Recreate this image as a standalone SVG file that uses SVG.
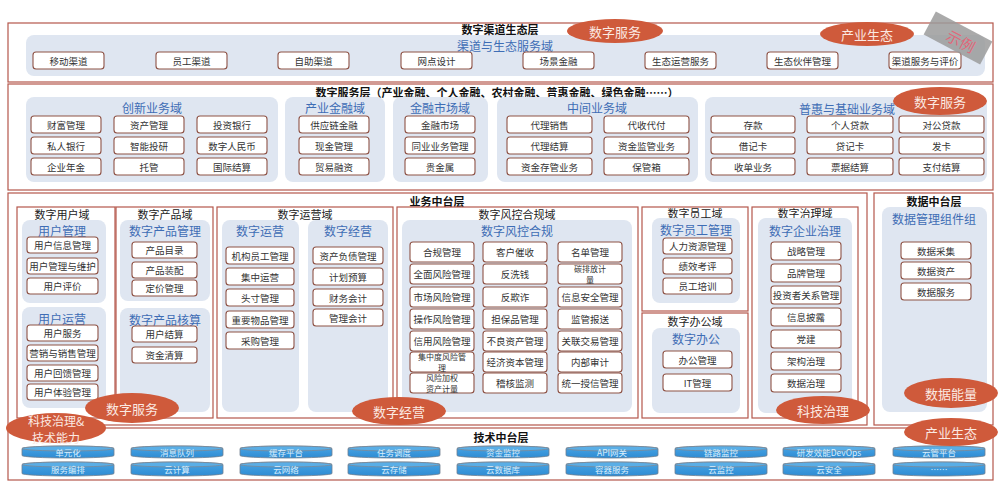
<svg xmlns="http://www.w3.org/2000/svg" xmlns:xlink="http://www.w3.org/1999/xlink" width="1005" height="495" viewBox="0 0 1005 495">
<style>
text{font-family:"Noto Sans CJK SC","Noto Sans",sans-serif;text-anchor:middle;dominant-baseline:central}
.layer{fill:#fff;stroke:#b5574b;stroke-width:1.2}
.dom{fill:#fff;stroke:#b5574b;stroke-width:1.2}
.panel{fill:#dfe6f1}
.box{fill:#fff;stroke:#8e5245;stroke-width:1.1}
.bt{font-size:9.5px;fill:#333}
.bs{font-size:8px;fill:#333}
.lt{font-size:11px;font-weight:bold;fill:#111}
.pt{font-size:12px;fill:#3e6db5}
.dt{font-size:11px;fill:#222}
.oval{fill:#cf5a3b}
.ot{font-size:13px;fill:#fbe9e2}
.cyl{fill:url(#cg);stroke:#6f7f8f;stroke-width:0.8}
.cylt{fill:#5aaee6;stroke:#7d8894;stroke-width:0.8}
.ct{font-size:8.5px;fill:#d9eefc}
</style>
<defs>
<linearGradient id="cg" x1="0" y1="0" x2="0" y2="1"><stop offset="0" stop-color="#48a6e6"/><stop offset="1" stop-color="#2f8bd2"/></linearGradient>
<g id="cylA"><path class="cyl" d="M0,2.5 A46,2.5 0 0 1 92,2.5 V9.5 A46,2.5 0 0 1 0,9.5 Z"/><ellipse class="cylt" cx="46" cy="2.5" rx="46" ry="2.5"/></g>
<g id="cylB"><path class="cyl" d="M0,2.5 A46,2.5 0 0 1 92,2.5 V11.5 A46,2.5 0 0 1 0,11.5 Z"/><ellipse class="cylt" cx="46" cy="2.5" rx="46" ry="2.5"/></g>
</defs>
<rect width="1005" height="495" fill="#fff"/>

<!-- Layer 1: channel -->
<g id="layer-channel">
<rect class="layer" x="8" y="23" width="985" height="59"/>
<rect class="panel" x="26" y="35" width="959" height="41" rx="8"/>
<text class="lt" x="500" y="29">数字渠道生态层</text>
<text class="pt" x="505" y="45">渠道与生态服务域</text>
</g>
<g id="c1"><rect class="box" x="33" y="52" width="71" height="17" rx="3"/><text class="bt" x="68.5" y="60.5">移动渠道</text></g>
<g id="c2"><rect class="box" x="156" y="52" width="71" height="17" rx="3"/><text class="bt" x="191.5" y="60.5">员工渠道</text></g>
<g id="c3"><rect class="box" x="278" y="52" width="71" height="17" rx="3"/><text class="bt" x="313.5" y="60.5">自助渠道</text></g>
<g id="c4"><rect class="box" x="401" y="52" width="71" height="17" rx="3"/><text class="bt" x="436.5" y="60.5">网点设计</text></g>
<g id="c5"><rect class="box" x="523" y="52" width="71" height="17" rx="3"/><text class="bt" x="558.5" y="60.5">场景金融</text></g>
<g id="c6"><rect class="box" x="645" y="52" width="71" height="17" rx="3"/><text class="bt" x="680.5" y="60.5">生态运营服务</text></g>
<g id="c7"><rect class="box" x="767" y="52" width="71" height="17" rx="3"/><text class="bt" x="802.5" y="60.5">生态伙伴管理</text></g>
<g id="c8"><rect class="box" x="889" y="52" width="72" height="17" rx="3"/><text class="bt" x="925" y="60.5">渠道服务与评价</text></g>

<!-- Layer 2: service -->
<g id="layer-service">
<rect class="layer" x="8" y="84" width="985" height="106"/>
<text class="lt" x="497" y="92">数字服务层（产业金融、个人金融、农村金融、普惠金融、绿色金融……）</text>
<rect class="panel" x="26" y="97" width="252" height="85" rx="8"/>
<rect class="panel" x="285" y="97" width="100" height="85" rx="8"/>
<rect class="panel" x="393" y="97" width="95" height="85" rx="8"/>
<rect class="panel" x="497" y="97" width="201" height="85" rx="8"/>
<rect class="panel" x="705" y="97" width="282" height="85" rx="8"/>
<text class="pt" x="152" y="107">创新业务域</text>
<text class="pt" x="335" y="107">产业金融域</text>
<text class="pt" x="440" y="107">金融市场域</text>
<text class="pt" x="597" y="107">中间业务域</text>
<text class="pt" x="847" y="108">普惠与基础业务域</text>
</g>
<g id="s1"><rect class="box" x="31" y="116" width="70" height="17" rx="3"/><text class="bt" x="66" y="124.5">财富管理</text></g>
<g id="s2"><rect class="box" x="114" y="116" width="70" height="17" rx="3"/><text class="bt" x="149" y="124.5">资产管理</text></g>
<g id="s3"><rect class="box" x="197" y="116" width="70" height="17" rx="3"/><text class="bt" x="232" y="124.5">投资银行</text></g>
<g id="s4"><rect class="box" x="31" y="137" width="70" height="17" rx="3"/><text class="bt" x="66" y="145.5">私人银行</text></g>
<g id="s5"><rect class="box" x="114" y="137" width="70" height="17" rx="3"/><text class="bt" x="149" y="145.5">智能投研</text></g>
<g id="s6"><rect class="box" x="197" y="137" width="70" height="17" rx="3"/><text class="bt" x="232" y="145.5">数字人民币</text></g>
<g id="s7"><rect class="box" x="31" y="158" width="70" height="17" rx="3"/><text class="bt" x="66" y="166.5">企业年金</text></g>
<g id="s8"><rect class="box" x="114" y="158" width="70" height="17" rx="3"/><text class="bt" x="149" y="166.5">托管</text></g>
<g id="s9"><rect class="box" x="197" y="158" width="70" height="17" rx="3"/><text class="bt" x="232" y="166.5">国际结算</text></g>
<g id="s10"><rect class="box" x="299" y="116" width="70" height="17" rx="3"/><text class="bt" x="334" y="124.5">供应链金融</text></g>
<g id="s11"><rect class="box" x="299" y="137" width="70" height="17" rx="3"/><text class="bt" x="334" y="145.5">现金管理</text></g>
<g id="s12"><rect class="box" x="299" y="158" width="70" height="17" rx="3"/><text class="bt" x="334" y="166.5">贸易融资</text></g>
<g id="s13"><rect class="box" x="405" y="116" width="70" height="17" rx="3"/><text class="bt" x="440" y="124.5">金融市场</text></g>
<g id="s14"><rect class="box" x="405" y="137" width="70" height="17" rx="3"/><text class="bt" x="440" y="145.5">同业业务管理</text></g>
<g id="s15"><rect class="box" x="405" y="158" width="70" height="17" rx="3"/><text class="bt" x="440" y="166.5">贵金属</text></g>
<g id="s16"><rect class="box" x="507" y="116" width="85" height="17" rx="3"/><text class="bt" x="549.5" y="124.5">代理销售</text></g>
<g id="s17"><rect class="box" x="604" y="116" width="85" height="17" rx="3"/><text class="bt" x="646.5" y="124.5">代收代付</text></g>
<g id="s18"><rect class="box" x="507" y="137" width="85" height="17" rx="3"/><text class="bt" x="549.5" y="145.5">代理结算</text></g>
<g id="s19"><rect class="box" x="604" y="137" width="85" height="17" rx="3"/><text class="bt" x="646.5" y="145.5">资金监管业务</text></g>
<g id="s20"><rect class="box" x="507" y="158" width="85" height="17" rx="3"/><text class="bt" x="549.5" y="166.5">资金存管业务</text></g>
<g id="s21"><rect class="box" x="604" y="158" width="85" height="17" rx="3"/><text class="bt" x="646.5" y="166.5">保管箱</text></g>
<g id="s22"><rect class="box" x="711" y="116" width="84" height="17" rx="3"/><text class="bt" x="753" y="124.5">存款</text></g>
<g id="s23"><rect class="box" x="807" y="116" width="86" height="17" rx="3"/><text class="bt" x="850" y="124.5">个人贷款</text></g>
<g id="s24"><rect class="box" x="899" y="116" width="85" height="17" rx="3"/><text class="bt" x="941.5" y="124.5">对公贷款</text></g>
<g id="s25"><rect class="box" x="711" y="137" width="84" height="17" rx="3"/><text class="bt" x="753" y="145.5">借记卡</text></g>
<g id="s26"><rect class="box" x="807" y="137" width="86" height="17" rx="3"/><text class="bt" x="850" y="145.5">贷记卡</text></g>
<g id="s27"><rect class="box" x="899" y="137" width="85" height="17" rx="3"/><text class="bt" x="941.5" y="145.5">发卡</text></g>
<g id="s28"><rect class="box" x="711" y="158" width="84" height="17" rx="3"/><text class="bt" x="753" y="166.5">收单业务</text></g>
<g id="s29"><rect class="box" x="807" y="158" width="86" height="17" rx="3"/><text class="bt" x="850" y="166.5">票据结算</text></g>
<g id="s30"><rect class="box" x="899" y="158" width="85" height="17" rx="3"/><text class="bt" x="941.5" y="166.5">支付结算</text></g>

<!-- Layer 3: business middle platform -->
<g id="layer-biz">
<rect class="layer" x="8" y="193" width="859" height="232"/>
<text class="lt" x="437" y="201">业务中台层</text>
</g>
<g id="dom-user">
<rect class="dom" x="17" y="207" width="98" height="211"/>
<text class="dt" x="62" y="214">数字用户域</text>
<rect class="panel" x="22" y="220" width="84" height="83" rx="8"/>
<text class="pt" x="62" y="230">用户管理</text>
<rect class="panel" x="22" y="307" width="84" height="101" rx="8"/>
<text class="pt" x="62" y="318">用户运营</text>
</g>
<g id="u1"><rect class="box" x="27" y="237" width="71" height="16" rx="3"/><text class="bt" x="62.5" y="245">用户信息管理</text></g>
<g id="u2"><rect class="box" x="27" y="258" width="71" height="16" rx="3"/><text class="bt" x="62.5" y="266">用户管理与维护</text></g>
<g id="u3"><rect class="box" x="27" y="278" width="71" height="16" rx="3"/><text class="bt" x="62.5" y="286">用户评价</text></g>
<g id="u4"><rect class="box" x="27" y="325" width="71" height="16" rx="3"/><text class="bt" x="62.5" y="333">用户服务</text></g>
<g id="u5"><rect class="box" x="27" y="345" width="71" height="16" rx="3"/><text class="bt" x="62.5" y="353">营销与销售管理</text></g>
<g id="u6"><rect class="box" x="27" y="365" width="71" height="16" rx="3"/><text class="bt" x="62.5" y="373">用户回馈管理</text></g>
<g id="u7"><rect class="box" x="27" y="384" width="71" height="16" rx="3"/><text class="bt" x="62.5" y="392">用户体验管理</text></g>

<g id="dom-product">
<rect class="dom" x="116" y="207" width="97" height="211"/>
<text class="dt" x="165" y="214">数字产品域</text>
<rect class="panel" x="120" y="220" width="90" height="81" rx="8"/>
<text class="pt" x="165" y="230">数字产品管理</text>
<rect class="panel" x="120" y="308" width="90" height="104" rx="8"/>
<text class="pt" x="165" y="319">数字产品核算</text>
</g>
<g id="p1"><rect class="box" x="132" y="242" width="65" height="16" rx="3"/><text class="bt" x="164.5" y="250">产品目录</text></g>
<g id="p2"><rect class="box" x="132" y="262" width="65" height="16" rx="3"/><text class="bt" x="164.5" y="270">产品装配</text></g>
<g id="p3"><rect class="box" x="132" y="280" width="65" height="16" rx="3"/><text class="bt" x="164.5" y="288">定价管理</text></g>
<g id="p4"><rect class="box" x="132" y="326" width="65" height="16" rx="3"/><text class="bt" x="164.5" y="334">用户结算</text></g>
<g id="p5"><rect class="box" x="132" y="347" width="65" height="16" rx="3"/><text class="bt" x="164.5" y="355">资金清算</text></g>

<g id="dom-ops">
<rect class="dom" x="217" y="207" width="176" height="211"/>
<text class="dt" x="305" y="214">数字运营域</text>
<rect class="panel" x="222" y="220" width="77" height="192" rx="8"/>
<text class="pt" x="260" y="230">数字运营</text>
<rect class="panel" x="308" y="220" width="80" height="192" rx="8"/>
<text class="pt" x="348" y="230">数字经营</text>
</g>
<g id="o1"><rect class="box" x="226" y="247" width="68" height="17" rx="3"/><text class="bt" x="260" y="255.5">机构员工管理</text></g>
<g id="o2"><rect class="box" x="226" y="268" width="68" height="17" rx="3"/><text class="bt" x="260" y="276.5">集中运营</text></g>
<g id="o3"><rect class="box" x="226" y="289" width="68" height="17" rx="3"/><text class="bt" x="260" y="297.5">头寸管理</text></g>
<g id="o4"><rect class="box" x="226" y="311" width="68" height="17" rx="3"/><text class="bt" x="260" y="319.5">重要物品管理</text></g>
<g id="o5"><rect class="box" x="226" y="332" width="68" height="17" rx="3"/><text class="bt" x="260" y="340.5">采购管理</text></g>
<g id="o6"><rect class="box" x="313" y="247" width="70" height="17" rx="3"/><text class="bt" x="348" y="255.5">资产负债管理</text></g>
<g id="o7"><rect class="box" x="313" y="268" width="70" height="17" rx="3"/><text class="bt" x="348" y="276.5">计划预算</text></g>
<g id="o8"><rect class="box" x="313" y="289" width="70" height="17" rx="3"/><text class="bt" x="348" y="297.5">财务会计</text></g>
<g id="o9"><rect class="box" x="313" y="309" width="70" height="17" rx="3"/><text class="bt" x="348" y="317.5">管理会计</text></g>

<g id="dom-risk">
<rect class="dom" x="397" y="207" width="241" height="211"/>
<text class="dt" x="517" y="214">数字风控合规域</text>
<rect class="panel" x="402" y="220" width="230" height="192" rx="8"/>
<text class="pt" x="517" y="230">数字风控合规</text>
</g>
<g id="r1"><rect class="box" x="410" y="242" width="64" height="20" rx="3"/><text class="bt" x="442" y="252">合规管理</text></g>
<g id="r2"><rect class="box" x="410" y="264" width="64" height="20" rx="3"/><text class="bt" x="442" y="274">全面风险管理</text></g>
<g id="r3"><rect class="box" x="410" y="287" width="64" height="20" rx="3"/><text class="bt" x="442" y="297">市场风险管理</text></g>
<g id="r4"><rect class="box" x="410" y="309" width="64" height="20" rx="3"/><text class="bt" x="442" y="319">操作风险管理</text></g>
<g id="r5"><rect class="box" x="410" y="331" width="64" height="20" rx="3"/><text class="bt" x="442" y="341">信用风险管理</text></g>
<g id="r6"><rect class="box" x="410" y="352" width="64" height="20" rx="3"/><text class="bs" x="442" y="356.8">集中度风险管<tspan x="442" dy="10.5">理</tspan></text></g>
<g id="r7"><rect class="box" x="410" y="373" width="64" height="20" rx="3"/><text class="bs" x="442" y="377.8">风险加权<tspan x="442" dy="10.5">资产计量</tspan></text></g>
<g id="r8"><rect class="box" x="483" y="242" width="64" height="20" rx="3"/><text class="bt" x="515" y="252">客户催收</text></g>
<g id="r9"><rect class="box" x="483" y="264" width="64" height="20" rx="3"/><text class="bt" x="515" y="274">反洗钱</text></g>
<g id="r10"><rect class="box" x="483" y="287" width="64" height="20" rx="3"/><text class="bt" x="515" y="297">反欺诈</text></g>
<g id="r11"><rect class="box" x="483" y="309" width="64" height="20" rx="3"/><text class="bt" x="515" y="319">担保品管理</text></g>
<g id="r12"><rect class="box" x="483" y="331" width="64" height="20" rx="3"/><text class="bt" x="515" y="341">不良资产管理</text></g>
<g id="r13"><rect class="box" x="483" y="352" width="64" height="20" rx="3"/><text class="bt" x="515" y="362">经济资本管理</text></g>
<g id="r14"><rect class="box" x="483" y="373" width="64" height="20" rx="3"/><text class="bt" x="515" y="383">稽核监测</text></g>
<g id="r15"><rect class="box" x="558" y="242" width="64" height="20" rx="3"/><text class="bt" x="590" y="252">名单管理</text></g>
<g id="r16"><rect class="box" x="558" y="264" width="64" height="20" rx="3"/><text class="bs" x="590" y="268.8">碳排放计<tspan x="590" dy="10.5">量</tspan></text></g>
<g id="r17"><rect class="box" x="558" y="287" width="64" height="20" rx="3"/><text class="bt" x="590" y="297">信息安全管理</text></g>
<g id="r18"><rect class="box" x="558" y="309" width="64" height="20" rx="3"/><text class="bt" x="590" y="319">监管报送</text></g>
<g id="r19"><rect class="box" x="558" y="331" width="64" height="20" rx="3"/><text class="bt" x="590" y="341">关联交易管理</text></g>
<g id="r20"><rect class="box" x="558" y="352" width="64" height="20" rx="3"/><text class="bt" x="590" y="362">内部审计</text></g>
<g id="r21"><rect class="box" x="558" y="373" width="64" height="20" rx="3"/><text class="bt" x="590" y="383">统一授信管理</text></g>

<g id="dom-staff">
<rect class="dom" x="642" y="207" width="106" height="104"/>
<text class="dt" x="695" y="213">数字员工域</text>
<rect class="panel" x="652" y="218" width="88" height="85" rx="8"/>
<text class="pt" x="696" y="229.5">数字员工管理</text>
</g>
<g id="e1"><rect class="box" x="663" y="238" width="69" height="16" rx="3"/><text class="bt" x="697.5" y="246">人力资源管理</text></g>
<g id="e2"><rect class="box" x="663" y="258" width="69" height="16" rx="3"/><text class="bt" x="697.5" y="266">绩效考评</text></g>
<g id="e3"><rect class="box" x="663" y="278" width="69" height="16" rx="3"/><text class="bt" x="697.5" y="286">员工培训</text></g>

<g id="dom-office">
<rect class="dom" x="642" y="313" width="106" height="105"/>
<text class="dt" x="695" y="321">数字办公域</text>
<rect class="panel" x="652" y="328" width="88" height="85" rx="8"/>
<text class="pt" x="696" y="338">数字办公</text>
</g>
<g id="f1"><rect class="box" x="663" y="351" width="69" height="17" rx="3"/><text class="bt" x="697.5" y="359.5">办公管理</text></g>
<g id="f2"><rect class="box" x="663" y="374" width="69" height="17" rx="3"/><text class="bt" x="697.5" y="382.5">IT管理</text></g>

<g id="dom-gov">
<rect class="dom" x="752" y="207" width="106" height="211"/>
<text class="dt" x="805" y="213">数字治理域</text>
<rect class="panel" x="758" y="218" width="94" height="195" rx="8"/>
<text class="pt" x="805" y="230">数字企业治理</text>
</g>
<g id="g1"><rect class="box" x="771" y="242" width="70" height="18" rx="3"/><text class="bt" x="806" y="251">战略管理</text></g>
<g id="g2"><rect class="box" x="771" y="264" width="70" height="18" rx="3"/><text class="bt" x="806" y="273">品牌管理</text></g>
<g id="g3"><rect class="box" x="771" y="286" width="70" height="18" rx="3"/><text class="bt" x="806" y="295">投资者关系管理</text></g>
<g id="g4"><rect class="box" x="771" y="308" width="70" height="18" rx="3"/><text class="bt" x="806" y="317">信息披露</text></g>
<g id="g5"><rect class="box" x="771" y="330" width="70" height="18" rx="3"/><text class="bt" x="806" y="339">党建</text></g>
<g id="g6"><rect class="box" x="771" y="352" width="70" height="18" rx="3"/><text class="bt" x="806" y="361">架构治理</text></g>
<g id="g7"><rect class="box" x="771" y="374" width="70" height="18" rx="3"/><text class="bt" x="806" y="383">数据治理</text></g>

<g id="layer-data">
<rect class="layer" x="874" y="193" width="119" height="232"/>
<text class="lt" x="934" y="201">数据中台层</text>
<rect class="panel" x="882" y="207" width="105" height="205" rx="8"/>
<text class="pt" x="934" y="218">数据管理组件组</text>
</g>
<g id="d1"><rect class="box" x="901" y="242" width="70" height="17" rx="3"/><text class="bt" x="936" y="250.5">数据采集</text></g>
<g id="d2"><rect class="box" x="901" y="262" width="70" height="17" rx="3"/><text class="bt" x="936" y="270.5">数据资产</text></g>
<g id="d3"><rect class="box" x="901" y="283" width="70" height="17" rx="3"/><text class="bt" x="936" y="291.5">数据服务</text></g>

<!-- Layer 4: tech -->
<g id="layer-tech">
<rect class="layer" x="8" y="428" width="985" height="52"/>
<text class="lt" x="501" y="437">技术中台层</text>
</g>
<g id="t1"><use href="#cylA" x="22" y="446"/><text class="ct" x="68" y="452">单元化</text></g>
<g id="t2"><use href="#cylA" x="131" y="446"/><text class="ct" x="177" y="452">消息队列</text></g>
<g id="t3"><use href="#cylA" x="240" y="446"/><text class="ct" x="286" y="452">缓存平台</text></g>
<g id="t4"><use href="#cylA" x="348" y="446"/><text class="ct" x="394" y="452">任务调度</text></g>
<g id="t5"><use href="#cylA" x="457" y="446"/><text class="ct" x="503" y="452">资金监控</text></g>
<g id="t6"><use href="#cylA" x="566" y="446"/><text class="ct" x="612" y="452">API网关</text></g>
<g id="t7"><use href="#cylA" x="675" y="446"/><text class="ct" x="721" y="452">链路监控</text></g>
<g id="t8"><use href="#cylA" x="783" y="446"/><text class="ct" x="829" y="452">研发效能DevOps</text></g>
<g id="t9"><use href="#cylA" x="893" y="446"/><text class="ct" x="939" y="452">云管平台</text></g>
<g id="t10"><use href="#cylB" x="22" y="462"/><text class="ct" x="68" y="469">服务编排</text></g>
<g id="t11"><use href="#cylB" x="131" y="462"/><text class="ct" x="177" y="469">云计算</text></g>
<g id="t12"><use href="#cylB" x="240" y="462"/><text class="ct" x="286" y="469">云网络</text></g>
<g id="t13"><use href="#cylB" x="348" y="462"/><text class="ct" x="394" y="469">云存储</text></g>
<g id="t14"><use href="#cylB" x="457" y="462"/><text class="ct" x="503" y="469">云数据库</text></g>
<g id="t15"><use href="#cylB" x="566" y="462"/><text class="ct" x="612" y="469">容器服务</text></g>
<g id="t16"><use href="#cylB" x="675" y="462"/><text class="ct" x="721" y="469">云监控</text></g>
<g id="t17"><use href="#cylB" x="783" y="462"/><text class="ct" x="829" y="469">云安全</text></g>
<g id="t18"><use href="#cylB" x="893" y="462"/><text class="ct" x="939" y="469">……</text></g>

<g id="connectors"></g>

<!-- Ovals -->
<g id="ov1"><ellipse class="oval" cx="615" cy="31" rx="48" ry="12"/><text class="ot" x="615" y="31">数字服务</text></g>
<g id="ov2"><ellipse class="oval" cx="867" cy="34" rx="47" ry="12"/><text class="ot" x="867" y="34">产业生态</text></g>
<g id="ov3"><ellipse class="oval" cx="940" cy="101" rx="47" ry="14"/><text class="ot" x="940" y="101">数字服务</text></g>
<g id="ov4"><ellipse class="oval" cx="132" cy="408" rx="47" ry="15"/><text class="ot" x="132" y="408">数字服务</text></g>
<g id="ov5"><ellipse class="oval" cx="56" cy="428" rx="50" ry="15"/><text class="ot" x="56" y="420" style="font-size:12px">科技治理&amp;<tspan x="56" dy="16.5">技术能力</tspan></text></g>
<g id="ov6"><ellipse class="oval" cx="399" cy="411" rx="47" ry="14"/><text class="ot" x="399" y="411">数字经营</text></g>
<g id="ov7"><ellipse class="oval" cx="823" cy="410" rx="47" ry="14"/><text class="ot" x="823" y="410">科技治理</text></g>
<g id="ov8"><ellipse class="oval" cx="951" cy="393" rx="47" ry="15"/><text class="ot" x="951" y="393">数据能量</text></g>
<g id="ov9"><ellipse class="oval" cx="951" cy="432" rx="47" ry="14"/><text class="ot" x="951" y="432">产业生态</text></g>

<!-- stamp -->
<g id="stamp" transform="rotate(28 958 38)">
<rect x="926" y="25" width="64" height="26" fill="#9b9b9b" opacity="0.85"/>
<text x="962" y="39" font-size="15" fill="#e0687a">示例</text>
</g>
</svg>
